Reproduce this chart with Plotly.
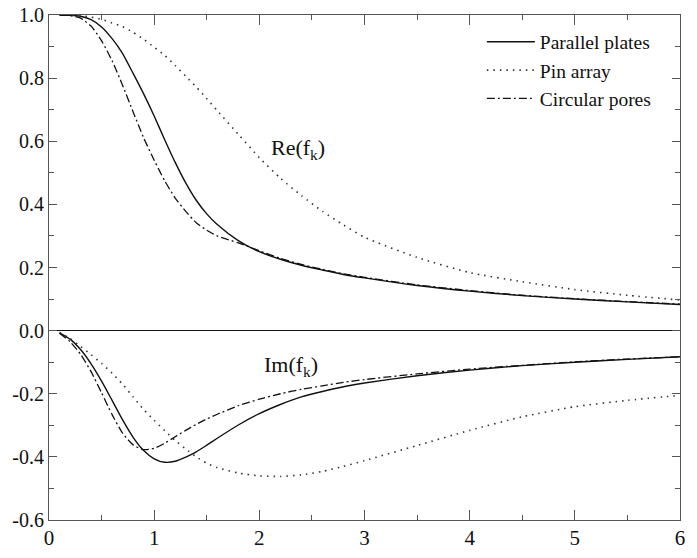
import plotly.graph_objects as go

x = [0.1, 0.2, 0.3, 0.4, 0.5, 0.6, 0.7, 0.8, 0.9, 1.0, 1.1, 1.2, 1.3, 1.4, 1.5,
     1.6, 1.8, 2.0, 2.2, 2.4, 2.6, 2.8, 3.0, 3.5, 4.0, 4.5, 5.0, 5.5, 6.0]

plates_re = [1.0, 0.999, 0.996, 0.985, 0.962, 0.925, 0.878, 0.815, 0.750, 0.680,
             0.605, 0.533, 0.468, 0.413, 0.370, 0.336, 0.285, 0.250, 0.226, 0.207,
             0.192, 0.178, 0.167, 0.143, 0.125, 0.111, 0.100, 0.091, 0.083]
plates_im = [-0.007, -0.027, -0.060, -0.105, -0.160, -0.221, -0.283, -0.338, -0.380, -0.406,
             -0.417, -0.414, -0.401, -0.384, -0.363, -0.341, -0.299, -0.263, -0.234, -0.210,
             -0.193, -0.178, -0.166, -0.143, -0.125, -0.111, -0.100, -0.091, -0.083]

pins_re = [1.0, 0.9995, 0.998, 0.993, 0.986, 0.975, 0.963, 0.945, 0.923, 0.898,
           0.872, 0.840, 0.806, 0.772, 0.735, 0.697, 0.622, 0.548, 0.483, 0.428,
           0.378, 0.335, 0.296, 0.232, 0.184, 0.155, 0.130, 0.112, 0.097]
pins_im = [-0.006, -0.025, -0.050, -0.076, -0.104, -0.135, -0.170, -0.210, -0.250, -0.284,
           -0.317, -0.348, -0.375, -0.400, -0.420, -0.434, -0.451, -0.460, -0.462, -0.457,
           -0.446, -0.430, -0.412, -0.364, -0.316, -0.273, -0.241, -0.221, -0.205]

pores_re = [1.0, 0.998, 0.990, 0.965, 0.918, 0.855, 0.777, 0.693, 0.611, 0.540,
            0.475, 0.420, 0.378, 0.342, 0.318, 0.300, 0.278, 0.253, 0.229, 0.210,
            0.194, 0.180, 0.169, 0.145, 0.127, 0.112, 0.101, 0.092, 0.084]
pores_im = [-0.008, -0.035, -0.075, -0.130, -0.197, -0.266, -0.325, -0.362, -0.377, -0.373,
            -0.357, -0.336, -0.316, -0.297, -0.280, -0.265, -0.238, -0.217, -0.200, -0.186,
            -0.175, -0.164, -0.155, -0.137, -0.122, -0.110, -0.099, -0.090, -0.083]

series_names = ["Parallel plates", "Pin array", "Circular pores"]
x_ticks = [0, 1, 2, 3, 4, 5, 6]
x_tick_text = ["0", "1", "2", "3", "4", "5", "6"]
y_ticks = [-0.6, -0.4, -0.2, 0.0, 0.2, 0.4, 0.6, 0.8, 1.0]
y_tick_text = ["-0.6", "-0.4", "-0.2", "0.0", "0.2", "0.4", "0.6", "0.8", "1.0"]

FONT = "Times New Roman, Liberation Serif, serif"
styles = [
    dict(color="#111111", width=1.4, dash="solid"),
    dict(color="#333333", width=1.6, dash="1.5px,5px"),
    dict(color="#111111", width=1.3, dash="8px,3px,2px,3px"),
]
data = [(plates_re, plates_im), (pins_re, pins_im), (pores_re, pores_im)]

fig = go.Figure()
for name, st, (re, im) in zip(series_names, styles, data):
    fig.add_trace(go.Scatter(x=x, y=re, mode="lines", name=name,
                             line=dict(shape="spline", smoothing=0.6, **st),
                             legendgroup=name, showlegend=True))
    fig.add_trace(go.Scatter(x=x, y=im, mode="lines", name=name,
                             line=dict(shape="spline", smoothing=0.6, **st),
                             legendgroup=name, showlegend=False))

fig.add_annotation(x=2.37, y=0.575, text="Re(f<sub>k</sub>)", showarrow=False,
                   font=dict(family=FONT, size=22, color="#111111"))
fig.add_annotation(x=2.3, y=-0.112, text="Im(f<sub>k</sub>)", showarrow=False,
                   font=dict(family=FONT, size=22, color="#111111"))

axis_common = dict(showline=True, linecolor="#555555", linewidth=1.2, mirror="ticks",
                   ticks="inside", tickcolor="#555555", tickwidth=1.2,
                   showgrid=False, color="#111111", automargin=False,
                   ticklabeloverflow="allow")

fig.update_xaxes(range=[0, 6], tickvals=x_ticks, ticktext=x_tick_text, ticklen=10,
                 tickfont=dict(family=FONT, size=21, color="#111111"),
                 ticklabelstandoff=-1,
                 minor=dict(ticks="inside", dtick=0.5, ticklen=5, tickcolor="#555555",
                            tickwidth=1.2, showgrid=False),
                 zeroline=False, **axis_common)
fig.update_yaxes(range=[-0.6, 1.0], tickvals=y_ticks, ticktext=y_tick_text, ticklen=8,
                 tickfont=dict(family=FONT, size=20, color="#111111"),
                 minor=dict(ticks="inside", dtick=0.1, ticklen=5, tickcolor="#555555",
                            tickwidth=1.2, showgrid=False),
                 zeroline=True, zerolinecolor="#111111", zerolinewidth=1.4,
                 **axis_common)

fig.update_layout(
    width=681, height=542,
    margin=dict(l=41, r=9, t=7, b=30),
    paper_bgcolor="white", plot_bgcolor="white",
    font=dict(family=FONT, size=20, color="#111111"),
    legend=dict(x=0.686, y=0.985, xanchor="left", yanchor="top",
                bgcolor="rgba(0,0,0,0)", borderwidth=0,
                font=dict(family=FONT, size=19.5), tracegroupgap=0,
                itemwidth=48),
)

fig.write_html("out.html")
